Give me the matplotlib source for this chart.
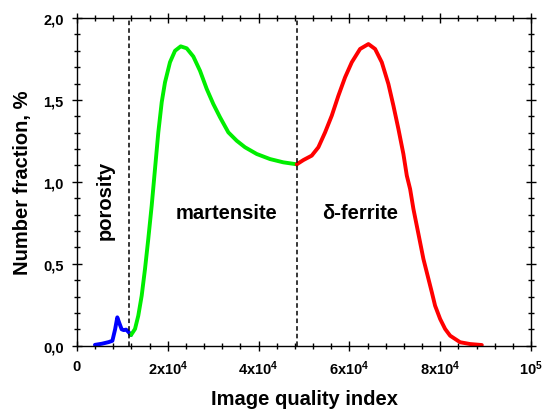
import matplotlib
matplotlib.use("Agg")
import matplotlib.pyplot as plt
from matplotlib.ticker import MultipleLocator

plt.rcParams['font.family'] = ['Liberation Sans', 'DejaVu Sans']
plt.rcParams['font.weight'] = 'bold'
plt.rcParams['mathtext.fontset'] = 'custom'
plt.rcParams['mathtext.rm'] = 'Liberation Sans:bold'
plt.rcParams['mathtext.bf'] = 'Liberation Sans:bold'

# porosity (blue)
por_x = [3960, 5500, 7000, 7800, 8400, 8880, 9300, 9840, 10300, 10800, 11300, 11900]
por_y = [0.005, 0.012, 0.022, 0.03, 0.10, 0.173, 0.14, 0.10, 0.095, 0.098, 0.085, 0.065]

# martensite (green)
mart_x = [11900, 12780, 13500, 14250, 14980, 15700, 16450, 17180, 17910, 18660, 19380,
          20480, 21590, 22840, 24160, 25620, 27090, 28570, 30020, 31500, 33330, 35170,
          37000, 39580, 42510, 45440, 48390]
mart_y = [0.065, 0.102, 0.183, 0.305, 0.468, 0.651, 0.854, 1.078, 1.302, 1.486, 1.607,
          1.730, 1.800, 1.827, 1.815, 1.765, 1.678, 1.567, 1.475, 1.394, 1.302, 1.251,
          1.211, 1.170, 1.139, 1.119, 1.107]

# delta-ferrite (red)
fer_x = [48390, 49850, 51690, 53150, 54630, 56100, 57560, 59030, 60510, 62330, 64170,
         65640, 67110, 68570, 69670, 70770, 71870, 72620, 73350, 74080, 75180, 76280,
         78130, 78850, 79960, 81060, 82160, 84360, 86560, 89140]
fer_y = [1.107, 1.133, 1.160, 1.211, 1.302, 1.404, 1.526, 1.638, 1.730, 1.811, 1.841,
         1.811, 1.730, 1.597, 1.465, 1.323, 1.170, 1.038, 0.956, 0.834, 0.682, 0.529,
         0.326, 0.244, 0.163, 0.102, 0.061, 0.021, 0.010, 0.004]

borders = [11500, 48400]

xticks = [0, 20000, 40000, 60000, 80000, 100000]
xtick_labels = ['0', r'$\mathbf{2x10^{4}}$', r'$\mathbf{4x10^{4}}$',
                r'$\mathbf{6x10^{4}}$', r'$\mathbf{8x10^{4}}$', r'$\mathbf{10^{5}}$']
yticks = [0.0, 0.5, 1.0, 1.5, 2.0]
ytick_labels = ['0,0', '0,5', '1,0', '1,5', '2,0']

fig = plt.figure(figsize=(5.42, 4.14), dpi=100)
ax = fig.add_axes([0.142, 0.1626, 0.838, 0.7915])

ax.plot(por_x, por_y, color='#0000ff', lw=2.8, solid_capstyle='round', solid_joinstyle='round')
ax.plot(mart_x, mart_y, color='#00ee00', lw=2.8, solid_capstyle='round', solid_joinstyle='round')
ax.plot(fer_x, fer_y, color='#ff0000', lw=2.8, solid_capstyle='round', solid_joinstyle='round')

for b in borders:
    ax.axvline(b, color='black', lw=1.1, linestyle=(0, (3, 2)))

ax.set_xlim(0, 100000)
ax.set_ylim(0, 2.0)

ax.set_xticks(xticks)
ax.set_xticklabels(xtick_labels)
ax.set_yticks(yticks)
ax.set_yticklabels(ytick_labels)
ax.xaxis.set_minor_locator(MultipleLocator(4000))
ax.yaxis.set_minor_locator(MultipleLocator(0.1))

ax.tick_params(which='both', direction='inout', top=True, right=True,
               width=1.0, labelsize=10.5)
ax.tick_params(which='major', length=7, pad=6)
ax.tick_params(which='minor', length=5)
for s in ax.spines.values():
    s.set_linewidth(1.0)

ax.set_xlabel('Image quality index', fontsize=14.5, fontweight='bold', labelpad=8)
ax.set_ylabel('Number fraction, %', fontsize=14.5, fontweight='bold', labelpad=8)

ax.text(6300, 0.89, 'porosity', rotation=90, ha='center', va='center',
        fontsize=14.5, fontweight='bold')
ax.text(33000, 0.815, 'martensite', ha='center', va='center',
        fontsize=14.5, fontweight='bold')
ax.text(62300, 0.815, 'δ-ferrite', ha='center', va='center',
        fontsize=14.5, fontweight='bold')

fig.savefig('out.png', dpi=100)
